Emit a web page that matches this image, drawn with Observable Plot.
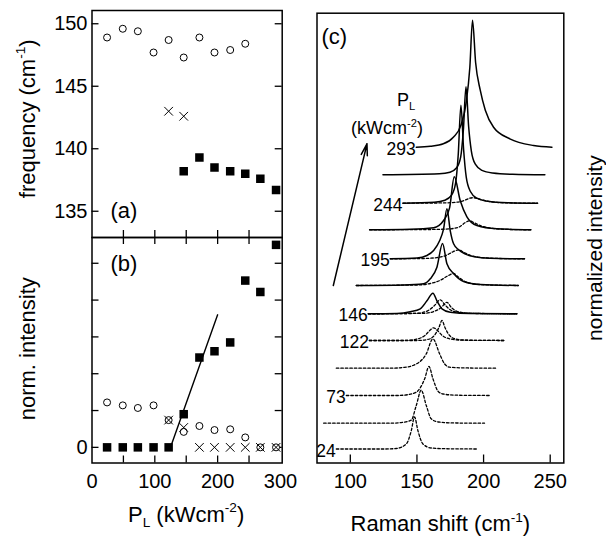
<!DOCTYPE html>
<html><head><meta charset="utf-8">
<script src="https://cdn.jsdelivr.net/npm/d3@7"></script>
<script src="https://cdn.jsdelivr.net/npm/@observablehq/plot@0.6"></script>
<style>
body{margin:0;background:#fff;}
#chart{position:relative;width:606px;height:537px;font-family:"Liberation Sans",Arial,sans-serif;}
#chart svg{position:absolute;left:0;top:0;background:transparent !important;overflow:visible;}
</style></head><body><div id="chart"></div>
<script>
// ---------- data ----------
const power = [24,49,73,98,122,146,171,195,220,244,268,293];
// panel (a): frequency (cm^-1)
const freqCircleP = [24,49,73,98,122,146,171,195,220,244];
const freqCircle  = [148.9,149.6,149.4,147.7,148.7,147.3,148.9,147.7,147.9,148.4];
const freqCrossP  = [122,146];
const freqCross   = [143.0,142.6];
const freqSquareP = [146,171,195,220,244,268,293];
const freqSquare  = [138.2,139.3,138.5,138.2,138.0,137.6,136.7];
const freqTicks   = [135,140,145,150];
// panel (b): normalized intensity
const intSquare   = [0,0,0,0,0,0.9,2.44,2.61,2.85,4.53,4.22,5.5];
const intCircleP  = [24,49,73,98,122,146,171,195,220,244,268,293];
const intCircle   = [1.22,1.14,1.07,1.14,0.74,0.42,0.58,0.47,0.49,0.27,0,0];
const intCrossP   = [122,146,171,195,220,244,268,293];
const intCross    = [0.74,0.54,0,0,0,0,0,0];
const intTicks    = [0,1,2,3,4,5];
const fitP        = [125,200];
const fitI        = [0,3.6];
const powerTicks  = [0,100,200,300];
const powerMinor  = [50,100,150,200,250];
// panel (c): Raman spectra, offset per excitation power
const traceOffset = [14,39.8,67.5,94.8,122.5,149.2,177.5,204.2,233.2,259.8,288.2,315.8];
const traceLabelled = [24,73,122,146,195,244,293];
const ramanTicks  = [100,150,200,250];
const solidSpectra = {
  146: [[113.5,0],[135,0.3],[145,2],[152.5,5],[157.5,13],[162,20.6],[165,13],[168.8,5],[175,1.6],[190,0.3],[225,0]],
  171: [[104.5,0],[140,0.5],[155,1.7],[160,6.7],[165,18.3],[169.2,42],[172.5,21.7],[177.5,12],[185,4],[197.5,1],[226,0]],
  195: [[130,0],[150,0.7],[157.5,3.3],[162.5,8.3],[167,18],[170,30],[172.5,50],[175,28],[177.5,15],[181.3,9],[186,5],[193,2],[205,0.5],[230.7,0]],
  220: [[114.5,0],[145,0.5],[162.5,2],[170,9.3],[174.5,22],[178,53],[182.5,29],[187.5,13],[195,4.3],[210,1],[235.5,0]],
  244: [[139.5,0],[163,1],[171,3],[176,8],[179,20],[181,49],[183,98],[185,54],[187,26],[190,12],[195,5],[203,2],[218,0.5],[240.5,0]],
  268: [[124.5,0],[166.8,1],[174.8,2.6],[179.8,7],[182.8,17.6],[184.8,44],[186.8,88],[188.8,48],[190.8,24],[193.8,10.6],[198.8,4.4],[206.8,1.8],[221.8,0.5],[246,0]],
  293: [[149.5,0],[160,1],[169.8,3.4],[177.3,10],[183,22],[187,45],[189.7,80],[191.7,127],[194,85],[197.5,57],[201.3,37],[207.5,20],[219.7,8.4],[237.5,1.7],[251.3,0]]
};
const dottedSpectra = {
  "24":   [[89.5,0],[125,0],[134.5,0.5],[142,5],[145.7,18],[148.2,32],[150.8,18],[154.5,5],[160.7,1],[170,0.3],[195.8,0]],
  "49":   [[80,0],[130,0],[139,0.8],[145.7,3],[149.5,17.7],[153.2,33],[157,17.7],[160.7,4.4],[166,1.2],[176,0.3],[200.7,0]],
  "73":   [[97,0],[135,0],[143,0.8],[149.5,3.3],[155.8,16.7],[159,29],[162,16.7],[165.8,4.3],[169.5,1.5],[180,0.3],[205,0]],
  "98":   [[89.5,0],[130,0],[140,0.8],[147,2.7],[157,14.4],[162,29.3],[167,14.4],[170.7,4.4],[174.5,1],[185,0.3],[210,0]],
  "122a": [[114.3,0],[140,0],[150,1.5],[156,5],[160,10.5],[162.5,12.7],[165,10.5],[169,5],[175,1.5],[185,0.3],[215.7,0]],
  "122b": [[114.3,0],[150,0],[158,1],[163,5],[166.5,13],[168.8,20],[171,13],[174.5,5],[179,1.5],[188,0.3],[215.7,0]],
  "146a": [[113.5,0],[150,0.5],[158,3],[163,8],[167.5,14],[171,9],[175,4],[182,1.2],[195,0.3],[225,0]],
  "146b": [[113.5,0],[155,0.5],[163,2.5],[168,6],[172.5,11.5],[176,6],[180,2.5],[188,0.6],[225,0]],
  "171":  [[104.5,0],[150,0.5],[160,2],[168,5.5],[173,9.5],[177.5,12],[181,8.5],[186,4],[195,1.2],[210,0.3],[226,0]],
  "195":  [[130,0],[155,0.3],[165,1.2],[172,3.5],[177,7],[181.3,9],[185,6.5],[190,3.5],[198,1.3],[212,0.3],[230.7,0]],
  "220":  [[114.5,0],[160,0.3],[175,1],[182,3],[186,7],[189.5,9],[193,7],[199,3.5],[208,1.2],[220,0.3],[235.5,0]],
  "244":  [[139.5,0],[170,0.3],[180,1],[186,3],[189.5,5],[192.5,5.5],[196,4.5],[201,2.5],[210,0.8],[222,0.2],[240.5,0]]
};
const arrowRaman = [87.25,112.5];
const arrowInt   = [177.5,319.2];

// ---------- helpers ----------
const W = 606, H = 537;
const zip = (xs, ys) => xs.map((x, i) => ({x, y: ys[i]}));
const offsetOf = p => traceOffset[power.indexOf(p)];
function rows(obj) {
  const out = [];
  for (const key of Object.keys(obj)) {
    const p = parseInt(key);
    for (const [x, h] of obj[key]) out.push({key, x, y: offsetOf(p) + h});
  }
  return out;
}
function rich(svg) {
  d3.select(svg).selectAll("text").each(function() {
    const s = this.textContent;
    if (!/[_^]\{/.test(s)) return;
    const fs = parseFloat(getComputedStyle(this).fontSize) || 20;
    const parts = s.match(/[_^]\{[^}]*\}|[^_^]+/g);
    while (this.firstChild) this.removeChild(this.firstChild);
    let shift = 0;
    for (const p of parts) {
      const t = document.createElementNS("http://www.w3.org/2000/svg", "tspan");
      let target = 0, txt = p, small = false;
      if (p[0] === "^") { target = -0.42 * fs; txt = p.slice(2, -1); small = true; }
      else if (p[0] === "_") { target = 0.25 * fs; txt = p.slice(2, -1); small = true; }
      t.setAttribute("dy", target - shift); shift = target;
      if (small) t.setAttribute("font-size", 0.62 * fs);
      t.textContent = txt;
      this.appendChild(t);
    }
  });
}
const style = {background: "transparent", fontFamily: "'Liberation Sans', Arial, sans-serif", fontSize: "20px", color: "black"};
const TL = 7; // inward tick length
const label = (s, o) => Plot.text([s], {text: d => d, textAnchor: "middle", lineAnchor: "middle", ...o});

// ---------- panel (a) ----------
const fA = {l: 91.5, r: 281.7, t: 10, b: 237};
const plotA = Plot.plot({
  width: W, height: H, marginLeft: fA.l, marginRight: W - fA.r, marginTop: fA.t, marginBottom: H - fA.b,
  x: {domain: [0, 302.8], axis: null},
  y: {domain: [132.9, 151.06]},
  style,
  marks: [
    Plot.frame({strokeWidth: 1.5}),
    Plot.axisY(freqTicks, {tickSize: 0, tickPadding: 4.5, label: null}),
    Plot.tickY(freqTicks, {y: d => d, insetRight: (fA.r - fA.l) - TL, strokeWidth: 1.3}),
    Plot.tickY(freqTicks, {y: d => d, insetLeft: (fA.r - fA.l) - TL, strokeWidth: 1.3}),
    Plot.tickX(powerMinor, {x: d => d, insetTop: (fA.b - fA.t) - TL, strokeWidth: 1.3}),
    Plot.dot(zip(freqCircleP, freqCircle), {x: "x", y: "y", r: 3.5, stroke: "black", strokeWidth: 1, fill: "white"}),
    Plot.dot(zip(freqCrossP, freqCross), {x: "x", y: "y", r: 4, symbol: "times", stroke: "black", strokeWidth: 1}),
    Plot.dot(zip(freqSquareP, freqSquare), {x: "x", y: "y", r: 4.8, symbol: "square", fill: "black", stroke: "none"}),
    label("(a)", {frameAnchor: "bottom-left", textAnchor: "start", dx: 18.5, dy: -27, fontSize: 22}),
    label("frequency (cm^{-1})", {frameAnchor: "left", rotate: -90, dx: -64.5, dy: -5.2, fontSize: 22})
  ]
});

// ---------- panel (b) ----------
const fB = {l: 91.5, r: 281.7, t: 237, b: 462.5};
const plotB = Plot.plot({
  width: W, height: H, marginLeft: fB.l, marginRight: W - fB.r, marginTop: fB.t, marginBottom: H - fB.b,
  x: {domain: [0, 302.8]},
  y: {domain: [-0.425, 5.7]},
  style,
  marks: [
    Plot.frame({strokeWidth: 1.5}),
    Plot.axisY(intTicks, {tickSize: 0, tickPadding: 4.5, label: null, tickFormat: d => d === 0 ? "0" : ""}),
    Plot.axisX(powerTicks, {tickSize: 0, tickPadding: 11, label: null}),
    Plot.tickY(intTicks, {y: d => d, insetRight: (fB.r - fB.l) - TL, strokeWidth: 1.3}),
    Plot.tickY(intTicks, {y: d => d, insetLeft: (fB.r - fB.l) - TL, strokeWidth: 1.3}),
    Plot.tickX(powerMinor, {x: d => d, insetTop: (fB.b - fB.t) - TL, strokeWidth: 1.3}),
    Plot.tickX(powerMinor, {x: d => d, insetBottom: (fB.b - fB.t) - TL, strokeWidth: 1.3}),
    Plot.line(zip(fitP, fitI), {x: "x", y: "y", stroke: "black", strokeWidth: 1.4}),
    Plot.dot(zip(intCircleP, intCircle), {x: "x", y: "y", r: 3.5, stroke: "black", strokeWidth: 1, fill: "white"}),
    Plot.dot(zip(intCrossP, intCross), {x: "x", y: "y", r: 4, symbol: "times", stroke: "black", strokeWidth: 1}),
    Plot.dot(zip(power, intSquare), {x: "x", y: "y", r: 4.8, symbol: "square", fill: "black", stroke: "none"}),
    label("(b)", {frameAnchor: "top-left", textAnchor: "start", dx: 18.5, dy: 26, fontSize: 22}),
    label("norm. intensity", {frameAnchor: "left", rotate: -90, dx: -64.5, dy: -1.5, fontSize: 22}),
    label("P_{L} (kWcm^{-2})", {frameAnchor: "bottom", dx: -1, dy: 51.5, fontSize: 22})
  ]
});

// ---------- panel (c) ----------
const fC = {l: 316.5, r: 563.3, t: 12.7, b: 462.5};
const labelRows = traceLabelled.map(p => {
  const key = String(p);
  const first = (dottedSpectra[key] || dottedSpectra[key + "a"] || solidSpectra[p])[0][0];
  return {label: key, x: first, y: offsetOf(p)};
});
const plotC = Plot.plot({
  width: W, height: H, marginLeft: fC.l, marginRight: W - fC.r, marginTop: fC.t, marginBottom: H - fC.b,
  x: {domain: [75, 260.2]},
  y: {domain: [0, 449.8], axis: null},
  style,
  marks: [
    Plot.frame({strokeWidth: 1.5}),
    Plot.axisX(ramanTicks, {tickSize: 0, tickPadding: 11, label: null}),
    Plot.tickX(ramanTicks, {x: d => d, insetTop: (fC.b - fC.t) - 8, strokeWidth: 1.3}),
    Plot.line(rows(dottedSpectra), {x: "x", y: "y", z: "key", stroke: "black", strokeWidth: 1.3, strokeDasharray: "2.5,2", curve: "monotone-x"}),
    Plot.line(rows(solidSpectra), {x: "x", y: "y", z: "key", stroke: "black", strokeWidth: 1.5, curve: "monotone-x"}),
    Plot.text(labelRows, {x: "x", y: "y", text: "label", textAnchor: "end", dx: -0.5, dy: 2, fontSize: 17.5}),
    Plot.arrow([{x1: arrowRaman[0], y1: arrowInt[0], x2: arrowRaman[1], y2: arrowInt[1]}], {x1: "x1", y1: "y1", x2: "x2", y2: "y2", stroke: "black", strokeWidth: 1.5, headLength: 12, headAngle: 30}),
    label("(c)", {frameAnchor: "top-left", textAnchor: "start", dx: 4.5, dy: 23.5, fontSize: 22}),
    label("P_{L}", {frameAnchor: "top-left", dx: 89, dy: 87, fontSize: 18}),
    label("(kWcm^{-2})", {frameAnchor: "top-left", dx: 70, dy: 115.5, fontSize: 18}),
    label("Raman shift (cm^{-1})", {frameAnchor: "bottom", dy: 61, fontSize: 22}),
    label("normalized intensity", {frameAnchor: "right", rotate: -90, dx: 31.5, dy: 10, fontSize: 21})
  ]
});

const chart = document.getElementById("chart");
for (const p of [plotA, plotB, plotC]) { chart.appendChild(p); rich(p); }
</script></body></html>
